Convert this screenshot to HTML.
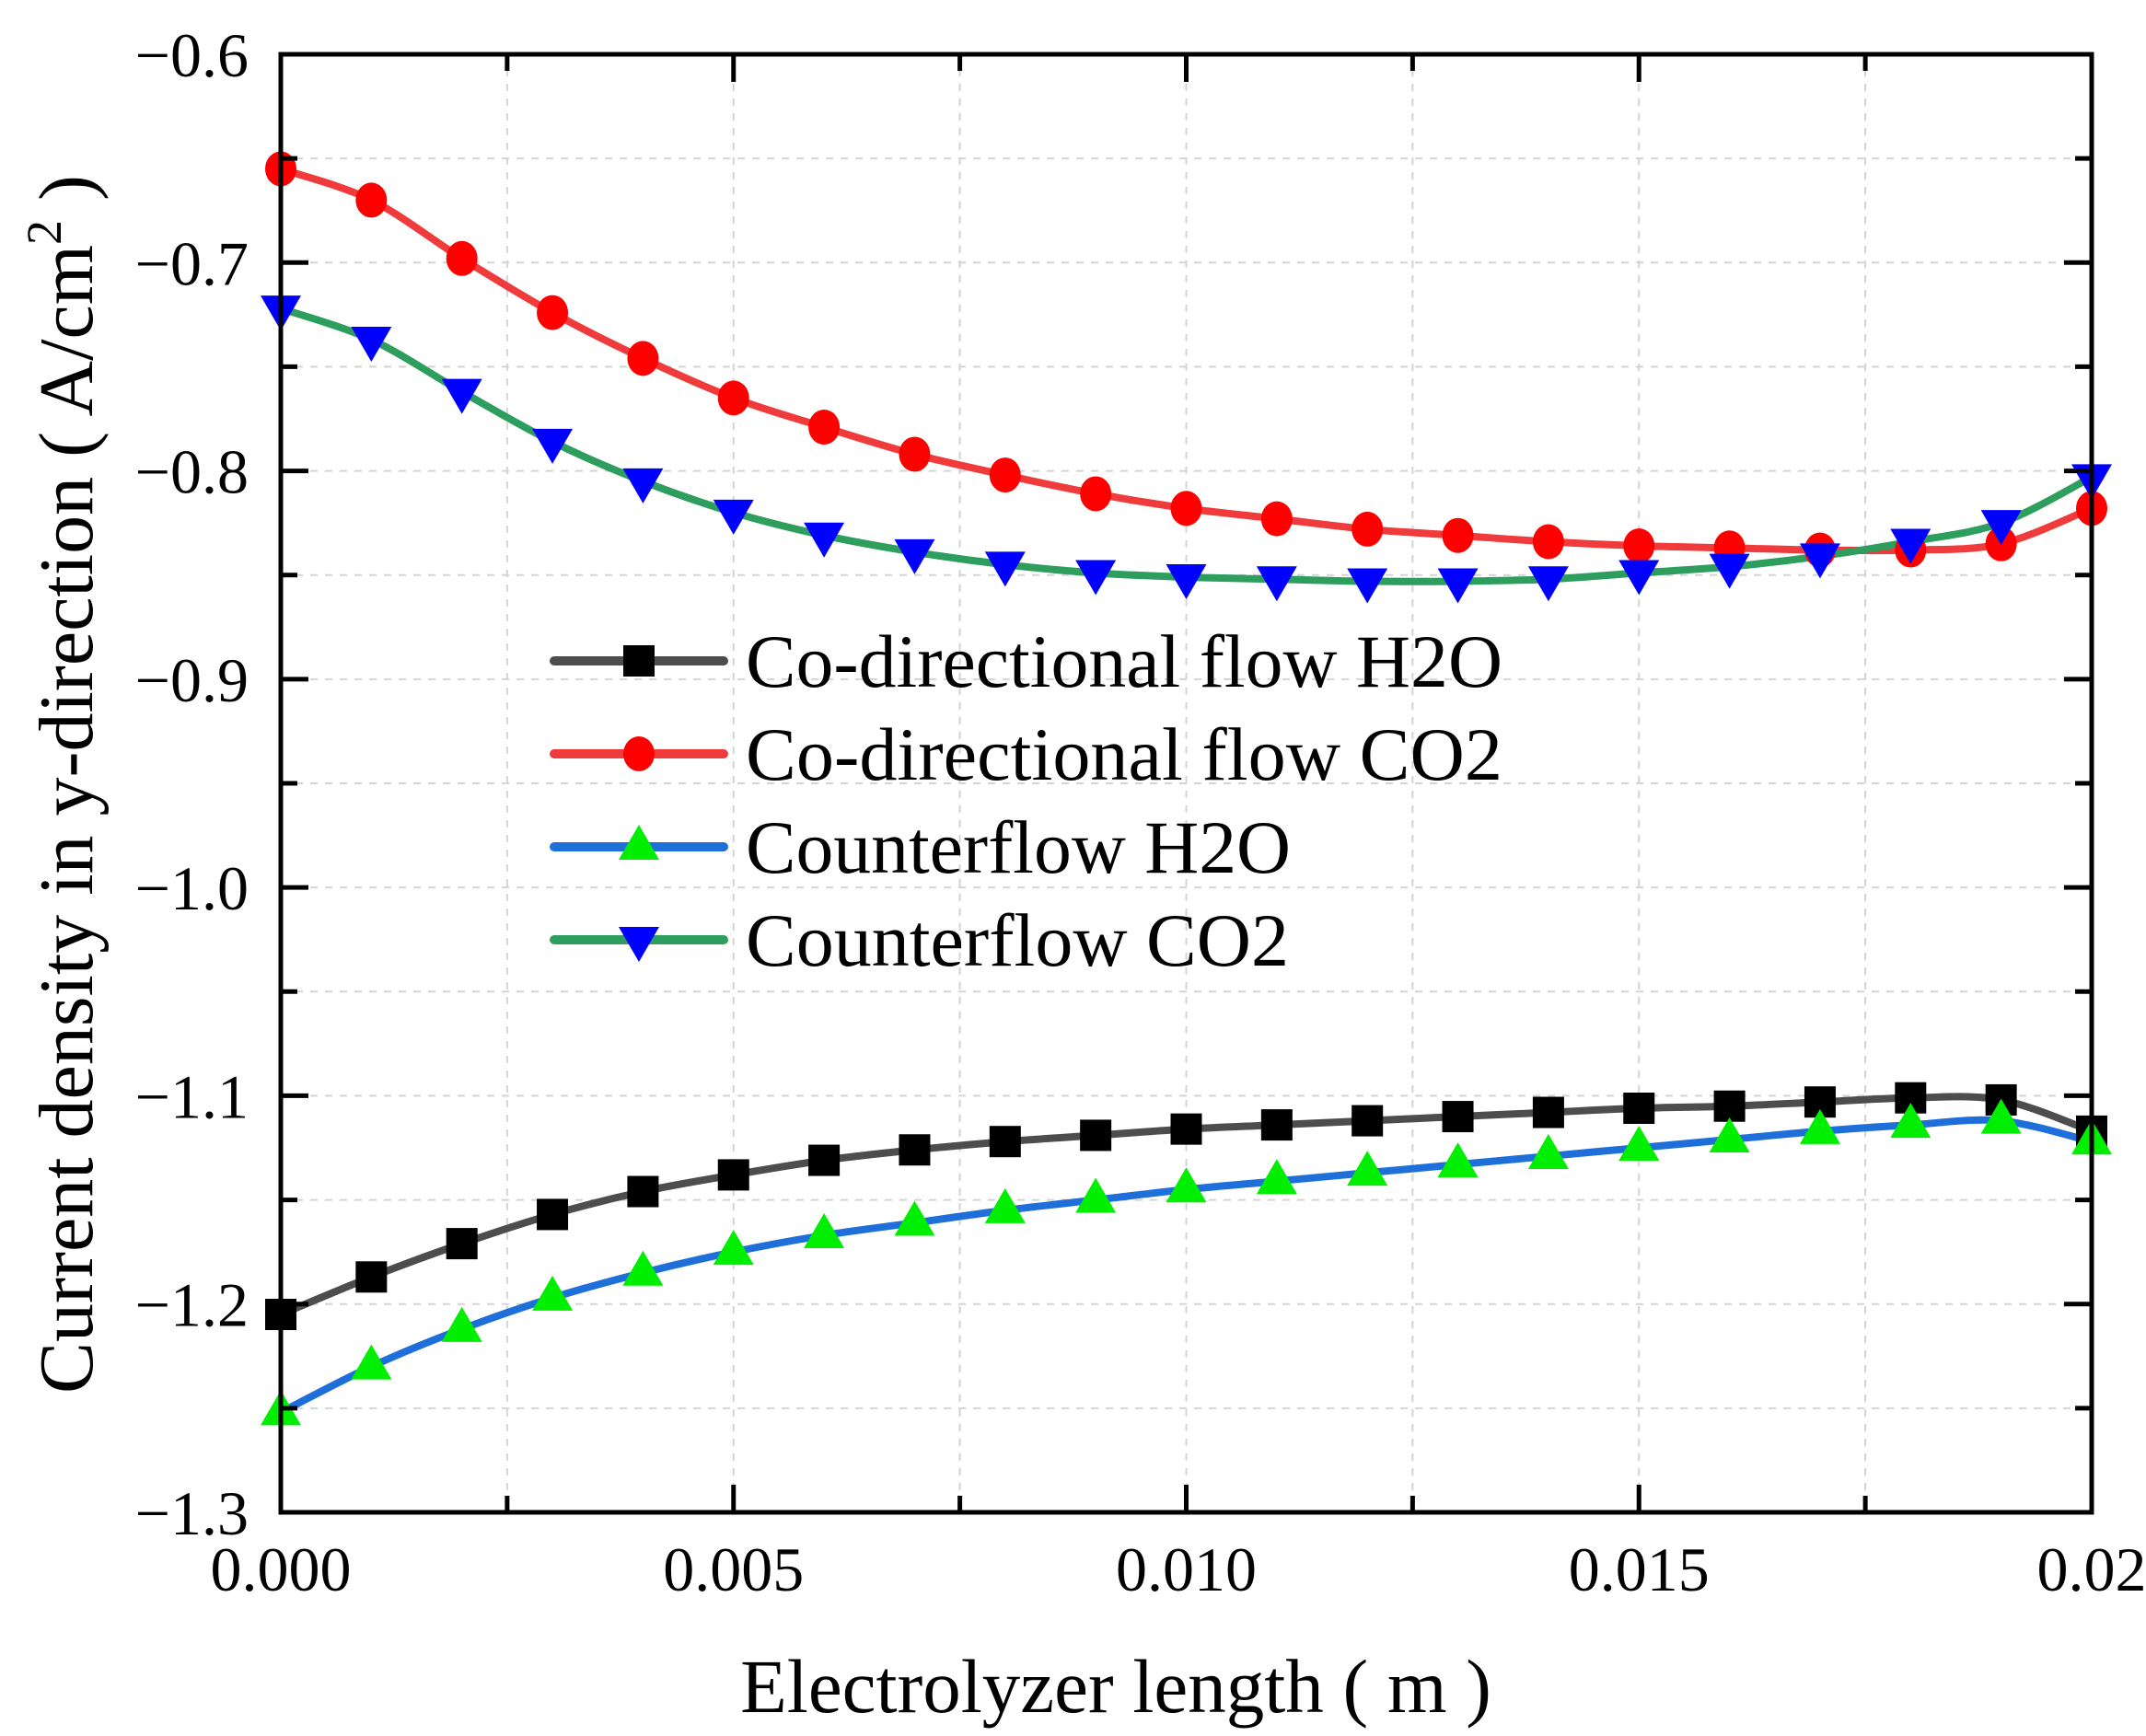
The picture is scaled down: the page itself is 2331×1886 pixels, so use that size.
<!DOCTYPE html>
<html><head><meta charset="utf-8"><style>
html,body{margin:0;padding:0;background:#fff;}
svg{display:block;font-family:"Liberation Serif",serif;}
</style></head><body>
<svg id="chart" width="2331" height="1886" viewBox="0 0 2331 1886" xmlns="http://www.w3.org/2000/svg">
<g id="grid"></g>
<g id="series"></g>
<g id="axes"></g>
<g id="legend"></g>
<text x="1212" y="1860" font-size="83" text-anchor="middle">Electrolyzer length ( m )</text>
<text transform="translate(100,852) rotate(-90)" font-size="84" text-anchor="middle">Current density  in y-direction ( A/cm<tspan font-size="54" dy="-34">2</tspan><tspan dy="34"> )</tspan></text>
</svg>
<script>
const xValues=[0,0.001,0.002,0.003,0.004,0.005,0.006,0.007,0.008,0.009,0.010,0.011,0.012,0.013,0.014,0.015,0.016,0.017,0.018,0.019,0.02];
const coH2O=[-1.205,-1.187,-1.171,-1.157,-1.146,-1.138,-1.131,-1.126,-1.122,-1.119,-1.116,-1.114,-1.112,-1.110,-1.108,-1.106,-1.105,-1.103,-1.101,-1.102,-1.117];
const coCO2=[-0.655,-0.670,-0.698,-0.724,-0.746,-0.765,-0.779,-0.792,-0.802,-0.811,-0.818,-0.823,-0.828,-0.831,-0.834,-0.836,-0.837,-0.838,-0.838,-0.835,-0.818];
const counterH2O=[-1.252,-1.230,-1.212,-1.197,-1.185,-1.175,-1.167,-1.161,-1.155,-1.150,-1.145,-1.141,-1.137,-1.133,-1.129,-1.125,-1.121,-1.117,-1.114,-1.112,-1.122];
const counterCO2=[-0.722,-0.737,-0.762,-0.786,-0.805,-0.820,-0.831,-0.839,-0.845,-0.849,-0.851,-0.852,-0.853,-0.853,-0.852,-0.849,-0.846,-0.841,-0.834,-0.825,-0.803];
const xTicks=[0,0.005,0.010,0.015,0.02];
const xTickLabels=["0.000","0.005","0.010","0.015","0.02"];
const yTicks=[-0.6,-0.7,-0.8,-0.9,-1.0,-1.1,-1.2,-1.3];
const yTickLabels=["\u22120.6","\u22120.7","\u22120.8","\u22120.9","\u22121.0","\u22121.1","\u22121.2","\u22121.3"];
const legendLabels=["Co-directional flow H2O","Co-directional flow CO2","Counterflow H2O","Counterflow CO2"];

const L=305,R=2272,T=59,B=1643;
const X=v=>L+(v-0)/(0.02-0)*(R-L);
const Y=v=>T+(-0.6-v)/(0.7)*(B-T);
const NS="http://www.w3.org/2000/svg";
function mk(tag,attrs,parent){const e=document.createElementNS(NS,tag);for(const k in attrs)e.setAttribute(k,attrs[k]);parent.appendChild(e);return e;}
const grid=document.getElementById('grid'),axes=document.getElementById('axes'),ser=document.getElementById('series'),leg=document.getElementById('legend');

for(let i=1;i<8;i++){const v=i*0.0025;const g=mk('line',{x1:X(v),x2:X(v),y1:T,y2:B,stroke:'#d4d4d4','stroke-width':2,'stroke-dasharray':'8 8'},grid);

}
for(let i=1;i<14;i++){const v=-0.6-i*0.05;const g=mk('line',{x1:L,x2:R,y1:Y(v),y2:Y(v),stroke:'#d4d4d4','stroke-width':2,'stroke-dasharray':'8 8'},grid);

}

function pathOf(xs,ys){const p=xs.map((x,i)=>[X(x),Y(ys[i])]);let d=`M${p[0][0]},${p[0][1]}`;
for(let i=0;i<p.length-1;i++){const p0=p[Math.max(0,i-1)],p1=p[i],p2=p[i+1],p3=p[Math.min(p.length-1,i+2)];
d+=` C${p1[0]+(p2[0]-p0[0])/6},${p1[1]+(p2[1]-p0[1])/6} ${p2[0]-(p3[0]-p1[0])/6},${p2[1]-(p3[1]-p1[1])/6} ${p2[0]},${p2[1]}`;}return d;}
const defs=[
 {ys:coH2O,line:'#4d4d4d',fill:'#000',m:'square',name:'co-directional-h2o'},
 {ys:counterH2O,line:'#1f6fdb',fill:'#00ee00',m:'up',name:'counterflow-h2o'},
 {ys:coCO2,line:'#ef3b3b',fill:'#ff0000',m:'circle',name:'co-directional-co2'},
 {ys:counterCO2,line:'#2e9e5e',fill:'#0000ff',m:'down',name:'counterflow-co2'}];
function marker(type,cx,cy,fill,parent,s){
 s=s||1;let e;
 if(type==='square')e=mk('rect',{x:cx-17*s,y:cy-17*s,width:34*s,height:34*s,fill},parent);
 else if(type==='circle')e=mk('ellipse',{cx,cy,rx:17*s,ry:19*s,fill},parent);
 else if(type==='up')e=mk('polygon',{points:`${cx},${cy-24*s} ${cx-22*s},${cy+14*s} ${cx+22*s},${cy+14*s}`,fill},parent);
 else e=mk('polygon',{points:`${cx},${cy+24*s} ${cx-22*s},${cy-14*s} ${cx+22*s},${cy-14*s}`,fill},parent);
 return e;}
defs.forEach(d=>{
 const p=mk('path',{d:pathOf(xValues,d.ys),fill:'none',stroke:d.line,'stroke-width':8,'stroke-linejoin':'round'},ser);
 
 
});
defs.forEach(d=>{
 xValues.forEach((x,i)=>{const e=marker(d.m,X(x),Y(d.ys[i]),d.fill,ser);
 
 });
});

const fr=mk('rect',{x:L,y:T,width:R-L,height:B-T,fill:'none',stroke:'#000','stroke-width':5},axes);


for(let i=0;i<=8;i++){const v=i*0.0025,len=i%2===0?30:18;
 mk('line',{x1:X(v),x2:X(v),y1:B,y2:B-len,stroke:'#000','stroke-width':5},axes);
 mk('line',{x1:X(v),x2:X(v),y1:T,y2:T+len,stroke:'#000','stroke-width':5},axes);}
for(let i=0;i<=14;i++){const v=-0.6-i*0.05,len=i%2===0?30:18;
 mk('line',{x1:L,x2:L+len,y1:Y(v),y2:Y(v),stroke:'#000','stroke-width':5},axes);
 mk('line',{x1:R,x2:R-len,y1:Y(v),y2:Y(v),stroke:'#000','stroke-width':5},axes);}
xTicks.forEach((v,i)=>{const t=mk('text',{x:X(v),y:1728,'font-size':68,'text-anchor':'middle'},axes);t.textContent=xTickLabels[i];
 
 });
yTicks.forEach((v,i)=>{const t=mk('text',{x:270,y:Y(v)+24,'font-size':68,'text-anchor':'end'},axes);t.textContent=yTickLabels[i];
 
 });

const legOrder=[defs[0],defs[2],defs[1],defs[3]];
legOrder.forEach((d,i)=>{const y=718+i*101;
 const g=mk('g',{},leg);
 
 
 mk('line',{x1:602,x2:786,y1:y,y2:y,stroke:d.line,'stroke-width':10,'stroke-linecap':'round'},g);
 marker(d.m,694,y,d.fill,g);
 const t=mk('text',{x:810,y:y+28,'font-size':82,textLength:i<2?822:i===2?592:590,lengthAdjust:'spacingAndGlyphs'},g);
 t.textContent=legendLabels[i];});
</script>
</body></html>
